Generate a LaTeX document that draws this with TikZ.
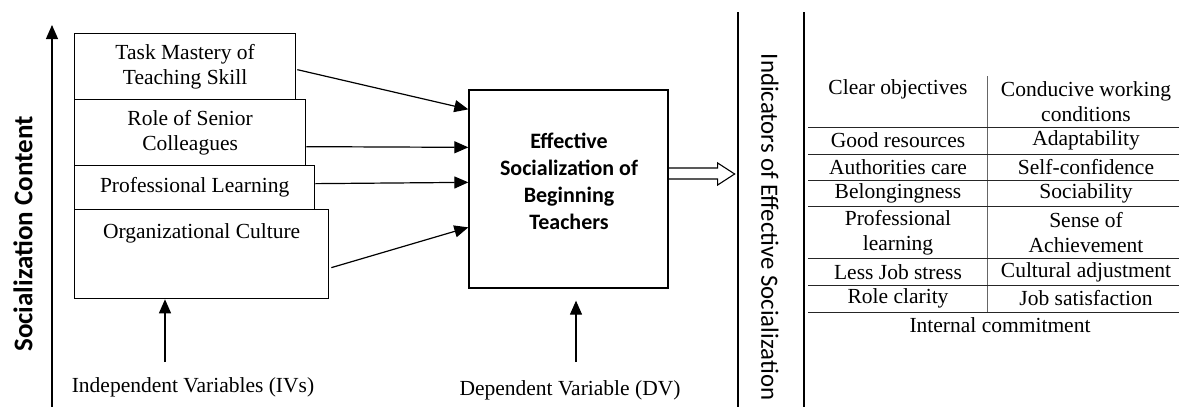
\documentclass[tikz,border=0pt]{standalone}
\usepackage{fontspec}
\setmainfont{Liberation Serif}
\newfontfamily\calib{Carlito}
\usetikzlibrary{calc,arrows.meta}

\tikzset{
	box/.style={draw, line width=1.3pt, anchor=north west, inner sep=0pt, align=center, font=\fontsize{21.5}{25.5}\selectfont},
	arr/.style={line width=1.2pt, -{Triangle[length=14pt,width=12pt]}},
	cell/.style={align=center, inner sep=0pt, font=\fontsize{21.5}{25.5}\selectfont},
	tabline/.style={line width=1pt, color=black!85},
}

\begin{document}
\begin{tikzpicture}[x=1pt, y=-1pt]
			%%%%% START %%%%%
			\useasboundingbox (0,0) rectangle (1179,407);
			
			% left axis
			\coordinate (axisBase) at (52,407);
			\coordinate (axisTop) at (52,25);
			\draw[arr] (axisBase) -- (axisTop);
			\node[rotate=90, font=\calib\bfseries\fontsize{27}{30}\selectfont] (axisLbl) at (23,234) {Socialization Content};
			
			% independent variables
			\node[box, minimum width=221pt, minimum height=66pt] (task) at (74,33) {Task Mastery of\\Teaching Skill};
			\node[box, minimum width=231pt, minimum height=66pt] (senior) at (74,99) {Role of Senior\\Colleagues};
			\node[box, minimum width=240pt, minimum height=44pt] (learn) at (74,165) {Professional Learning};
			\node[box, minimum width=254pt, minimum height=89pt] (culture) at (74,209) {};
			\node[cell] (cultureTxt) at ($(culture.north)+(0,24)$) {Organizational Culture};
			
			\node[cell] (ivLbl) at (193,387) {Independent Variables (IVs)};
			\coordinate (ivBase) at (165,362);
			\draw[arr] (ivBase) -- (culture.south -| ivBase);
			
			% dependent variable
			\node[draw, line width=1.3pt, minimum width=199pt, minimum height=198pt] (eff) at (568.5,189) {};
			\node[align=center, font=\calib\bfseries\fontsize{22}{27}\selectfont] (effTxt) at (569,181) {Effective\\Socialization of\\Beginning\\Teachers};
			
			\node[cell] (dvLbl) at (570,390) {Dependent Variable (DV)};
			\coordinate (dvBase) at (576,362);
			\draw[arr] (dvBase) -- ($(eff.south -| dvBase)+(0,12)$);
			
			\draw[arr] ($(task.east)+(1,3)$) -- ($(eff.north west)+(0,20)$);
			\draw[arr] ($(senior.east)+(0,14)$) -- ($(eff.north west)+(0,58)$);
			\draw[arr] ($(learn.east)+(0,-4)$) -- ($(eff.north west)+(0,93)$);
			\draw[arr] ($(culture.east)+(2,13.5)$) -- ($(eff.north west)+(0,138)$);
			
			% hollow arrow
			\draw[line width=1.1pt] ($(eff.east)+(0,-21)$) -- ++(49,0) -- ++(0,-5) -- ++(17,11) -- ++(-17,11) -- ++(0,-6) -- ($(eff.east)+(0,-10)$);
			
			% indicators
			\draw[line width=1.2pt] (738,12) -- (738,407);
			\draw[line width=1.2pt] (804,12) -- (804,407);
			\node[rotate=-90, font=\calib\fontsize{24.8}{28}\selectfont] (indLbl) at (770,227) {Indicators of Effective Socialization};
			
			\draw[line width=1pt, color=black!60] (987,76) -- (987,312);
			\foreach \hy in {127,154,180,206,258,285,312}
				\draw[tabline] (808,\hy) -- (1179,\hy);
			
			\foreach \i/\ly/\ry/\lt/\rt in {
				1/89/101.5/{Clear objectives}/{Conducive working\\conditions},
				2/140/140/{Good resources}/{Adaptability},
				3/167/167/{Authorities care}/{Self-confidence},
				4/193/193/{Belongingness}/{Sociability},
				5/232.5/232.5/{Professional\\learning}/{Sense of\\Achievement},
				6/272/272/{Less Job stress}/{Cultural adjustment},
				7/298/298/{Role clarity}/{Job satisfaction}}
			{
				\node[cell] (left\i) at (898,\ly) {\lt};
				\node[cell] (right\i) at (1086,\ry) {\rt};
			}
			\node[cell] (commit) at (1000,325) {Internal commitment};
			
			%%%%% END %%%%%
\end{tikzpicture}
\end{document}
